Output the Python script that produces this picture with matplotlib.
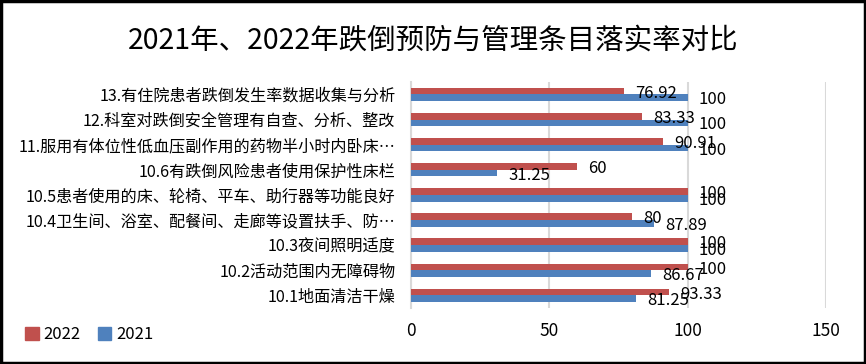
import matplotlib.pyplot as plt
from matplotlib.patches import Patch, Rectangle
import numpy as np

plt.rcParams['font.family'] = ['Noto Sans CJK SC', 'DejaVu Sans']

# 类别（从上到下）
categories = [
    '13.有住院患者跌倒发生率数据收集与分析',
    '12.科室对跌倒安全管理有自查、分析、整改',
    '11.服用有体位性低血压副作用的药物半小时内卧床…',
    '10.6有跌倒风险患者使用保护性床栏',
    '10.5患者使用的床、轮椅、平车、助行器等功能良好',
    '10.4卫生间、浴室、配餐间、走廊等设置扶手、防…',
    '10.3夜间照明适度',
    '10.2活动范围内无障碍物',
    '10.1地面清洁干燥',
]
v2022 = [76.92, 83.33, 90.91, 60, 100, 80, 100, 100, 93.33]
v2021 = [100, 100, 100, 31.25, 100, 87.89, 100, 86.67, 81.25]
x_ticks = [0, 50, 100, 150]

red = '#C0504D'
blue = '#4F81BD'


def fmt(v):
    return f'{v:g}'


fig = plt.figure(figsize=(8.66, 3.64), dpi=100)
ax = fig.add_axes([0.4743, 0.154, 0.480, 0.621])

y = np.arange(len(categories))
h = 0.265
ax.barh(y - h / 2, v2022, height=h, color=red, label='2022', zorder=3)
ax.barh(y + h / 2, v2021, height=h, color=blue, label='2021', zorder=3)

# 数据标签
for yi, v in zip(y, v2022):
    ax.annotate(fmt(v), (v, yi - h / 2), xytext=(8, -1.5), textcoords='offset points',
                ha='left', va='center', fontsize=12, zorder=4)
for yi, v in zip(y, v2021):
    ax.annotate(fmt(v), (v, yi + h / 2), xytext=(8, -1.5), textcoords='offset points',
                ha='left', va='center', fontsize=12, zorder=4)

ax.set_xlim(0, 150)
ax.set_ylim(len(categories) - 0.5, -0.5)
ax.set_xticks(x_ticks)
ax.set_yticks(y)
ax.set_yticklabels(categories, fontsize=11.6)
ax.tick_params(axis='x', length=0, pad=10, labelsize=12.5)
ax.tick_params(axis='y', length=0, pad=11)
ax.grid(axis='x', color='#D9D9D9', linewidth=1.5, zorder=0)
for s in ['top', 'right', 'bottom']:
    ax.spines[s].set_visible(False)
ax.spines['left'].set_color('#D9D9D9')
ax.spines['left'].set_linewidth(1.5)

fig.suptitle('2021年、2022年跌倒预防与管理条目落实率对比', fontsize=20.5, y=0.89, va='center')

handles = [Patch(color=red, label='2022'), Patch(color=blue, label='2021')]
fig.legend(handles=handles, loc='center left', bbox_to_anchor=(0.012, 0.08), ncol=2,
           frameon=False, fontsize=12, handlelength=0.8, handleheight=0.8,
           handletextpad=0.3, columnspacing=1.0)

fig.patches.append(Rectangle((0.0015, 0.003), 0.997, 0.994, transform=fig.transFigure,
                             fill=False, edgecolor='black', linewidth=2.5))

fig.savefig('out.png', dpi=100)
